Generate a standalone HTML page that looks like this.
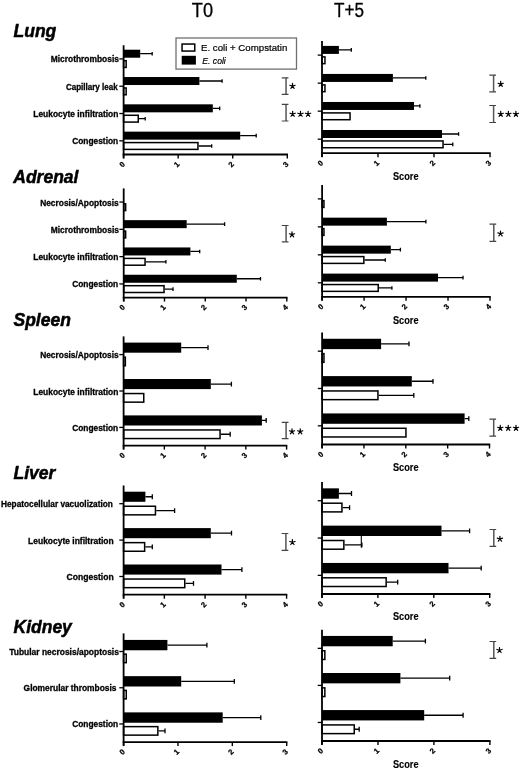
<!DOCTYPE html>
<html><head><meta charset="utf-8"><style>
html,body{margin:0;padding:0;background:#fff;}
svg{display:block;font-family:"Liberation Sans", sans-serif;filter:grayscale(100%);}
</style></head><body>
<svg width="520" height="770" viewBox="0 0 520 770">
<text x="191.8" y="16.5" font-size="19.3" stroke="#000" stroke-width="0.3" textLength="21.2" lengthAdjust="spacingAndGlyphs">T0</text>
<text x="334" y="16.5" font-size="19.3" stroke="#000" stroke-width="0.3" textLength="30" lengthAdjust="spacingAndGlyphs">T+5</text>
<text x="13.5" y="36.5" font-size="17.5" font-weight="bold" font-style="italic" stroke="#000" stroke-width="0.5">Lung</text>
<text x="13.3" y="183.2" font-size="17.5" font-weight="bold" font-style="italic" stroke="#000" stroke-width="0.5">Adrenal</text>
<text x="13.5" y="326.3" font-size="17.5" font-weight="bold" font-style="italic" stroke="#000" stroke-width="0.5">Spleen</text>
<text x="13.5" y="479.2" font-size="17.5" font-weight="bold" font-style="italic" stroke="#000" stroke-width="0.5">Liver</text>
<text x="13.5" y="633" font-size="17.5" font-weight="bold" font-style="italic" stroke="#000" stroke-width="0.5">Kidney</text>
<rect x="123.6" y="49.71" width="16.6" height="8" fill="#000"/>
<path d="M140.2 53.71H152.2M152.2 51.91V55.51" stroke="#000" stroke-width="1.3" fill="none"/>
<rect x="123.6" y="60.66" width="2.55" height="6.8" fill="#fff" stroke="#000" stroke-width="1.5"/>
<path d="M119.3 58.91H123.6" stroke="#000" stroke-width="1.3"/>
<text x="50.8" y="62.41" font-size="8.6" font-weight="bold" stroke="#000" stroke-width="0.3" textLength="68.1" lengthAdjust="spacingAndGlyphs">Microthrombosis</text>
<rect x="123.6" y="77.02" width="75.8" height="8" fill="#000"/>
<path d="M199.4 81.02H222.1M222.1 79.22V82.82" stroke="#000" stroke-width="1.3" fill="none"/>
<rect x="123.6" y="87.97" width="2.55" height="6.8" fill="#fff" stroke="#000" stroke-width="1.5"/>
<path d="M119.3 86.22H123.6" stroke="#000" stroke-width="1.3"/>
<text x="65.9" y="89.72" font-size="8.6" font-weight="bold" stroke="#000" stroke-width="0.3" textLength="51.8" lengthAdjust="spacingAndGlyphs">Capillary leak</text>
<rect x="123.6" y="104.33" width="89.2" height="8" fill="#000"/>
<path d="M212.8 108.33H219.7M219.7 106.53V110.13" stroke="#000" stroke-width="1.3" fill="none"/>
<rect x="123.6" y="115.28" width="14.65" height="6.8" fill="#fff" stroke="#000" stroke-width="1.5"/>
<path d="M139 118.68H145.2M145.2 116.88V120.48" stroke="#000" stroke-width="1.3" fill="none"/>
<path d="M119.3 113.53H123.6" stroke="#000" stroke-width="1.3"/>
<text x="33.3" y="117.03" font-size="8.6" font-weight="bold" stroke="#000" stroke-width="0.3" textLength="85.1" lengthAdjust="spacingAndGlyphs">Leukocyte infiltration</text>
<rect x="123.6" y="131.64" width="116.6" height="8" fill="#000"/>
<path d="M240.2 135.64H256.2M256.2 133.84V137.44" stroke="#000" stroke-width="1.3" fill="none"/>
<rect x="123.6" y="142.59" width="74.35" height="6.8" fill="#fff" stroke="#000" stroke-width="1.5"/>
<path d="M198.7 145.99H211.7M211.7 144.19V147.79" stroke="#000" stroke-width="1.3" fill="none"/>
<path d="M119.3 140.84H123.6" stroke="#000" stroke-width="1.3"/>
<text x="72.2" y="144.34" font-size="8.6" font-weight="bold" stroke="#000" stroke-width="0.3" textLength="46" lengthAdjust="spacingAndGlyphs">Congestion</text>
<path d="M123.6 45.25V158.3" stroke="#000" stroke-width="1.8"/>
<path d="M122.7 154.5H288" stroke="#000" stroke-width="1.8"/>
<path d="M123.6 154.5V158.5" stroke="#000" stroke-width="1.4"/>
<text x="122" y="167" font-size="7.6" font-weight="bold" stroke="#000" stroke-width="0.25" text-anchor="middle" transform="rotate(-45 122 164.3)">0</text>
<path d="M178.17 154.5V158.5" stroke="#000" stroke-width="1.4"/>
<text x="176.57" y="167" font-size="7.6" font-weight="bold" stroke="#000" stroke-width="0.25" text-anchor="middle" transform="rotate(-45 176.57 164.3)">1</text>
<path d="M232.73 154.5V158.5" stroke="#000" stroke-width="1.4"/>
<text x="231.13" y="167" font-size="7.6" font-weight="bold" stroke="#000" stroke-width="0.25" text-anchor="middle" transform="rotate(-45 231.13 164.3)">2</text>
<path d="M287.3 154.5V158.5" stroke="#000" stroke-width="1.4"/>
<text x="285.7" y="167" font-size="7.6" font-weight="bold" stroke="#000" stroke-width="0.25" text-anchor="middle" transform="rotate(-45 285.7 164.3)">3</text>
<path d="M286.05 77.9V94.4" stroke="#555" stroke-width="1.5" fill="none"/>
<path d="M281.75 77.9H288.45M281.75 94.4H288.45" stroke="#444" stroke-width="1.2" fill="none"/>
<path d="M292.5 86.1L292.5 83.35M292.5 86.1L295.12 85.25M292.5 86.1L294.12 88.32M292.5 86.1L290.88 88.32M292.5 86.1L289.88 85.25" stroke="#000" stroke-width="1.2" stroke-linecap="round" fill="none"/>
<path d="M286.05 104.4V121" stroke="#555" stroke-width="1.5" fill="none"/>
<path d="M281.75 104.4H288.45M281.75 121H288.45" stroke="#444" stroke-width="1.2" fill="none"/>
<path d="M292.65 114.05L292.65 111.3M292.65 114.05L295.27 113.2M292.65 114.05L294.27 116.27M292.65 114.05L291.03 116.27M292.65 114.05L290.03 113.2" stroke="#000" stroke-width="1.2" stroke-linecap="round" fill="none"/>
<path d="M300.5 114.05L300.5 111.3M300.5 114.05L303.12 113.2M300.5 114.05L302.12 116.27M300.5 114.05L298.88 116.27M300.5 114.05L297.88 113.2" stroke="#000" stroke-width="1.2" stroke-linecap="round" fill="none"/>
<path d="M308.1 114.05L308.1 111.3M308.1 114.05L310.72 113.2M308.1 114.05L309.72 116.27M308.1 114.05L306.48 116.27M308.1 114.05L305.48 113.2" stroke="#000" stroke-width="1.2" stroke-linecap="round" fill="none"/>
<rect x="322" y="45.91" width="16.9" height="8" fill="#000"/>
<path d="M338.9 49.91H351.3M351.3 48.11V51.71" stroke="#000" stroke-width="1.3" fill="none"/>
<rect x="322" y="56.86" width="2.95" height="6.8" fill="#fff" stroke="#000" stroke-width="1.5"/>
<path d="M317.7 55.11H322" stroke="#000" stroke-width="1.3"/>
<rect x="322" y="73.94" width="70.9" height="8" fill="#000"/>
<path d="M392.9 77.94H425.8M425.8 76.14V79.74" stroke="#000" stroke-width="1.3" fill="none"/>
<rect x="322" y="84.89" width="2.95" height="6.8" fill="#fff" stroke="#000" stroke-width="1.5"/>
<path d="M317.7 83.14H322" stroke="#000" stroke-width="1.3"/>
<rect x="322" y="101.96" width="92" height="8" fill="#000"/>
<path d="M414 105.96H419.9M419.9 104.16V107.76" stroke="#000" stroke-width="1.3" fill="none"/>
<rect x="322" y="112.91" width="28.05" height="6.8" fill="#fff" stroke="#000" stroke-width="1.5"/>
<path d="M317.7 111.16H322" stroke="#000" stroke-width="1.3"/>
<rect x="322" y="129.99" width="120" height="8" fill="#000"/>
<path d="M442 133.99H458.6M458.6 132.19V135.79" stroke="#000" stroke-width="1.3" fill="none"/>
<rect x="322" y="140.94" width="121.05" height="6.8" fill="#fff" stroke="#000" stroke-width="1.5"/>
<path d="M443.8 144.34H452.8M452.8 142.54V146.14" stroke="#000" stroke-width="1.3" fill="none"/>
<path d="M317.7 139.19H322" stroke="#000" stroke-width="1.3"/>
<path d="M322 41.1V157" stroke="#000" stroke-width="1.8"/>
<path d="M321.1 153.2H490.7" stroke="#000" stroke-width="1.8"/>
<path d="M322 153.2V157.2" stroke="#000" stroke-width="1.4"/>
<text x="320.4" y="165.7" font-size="7.6" font-weight="bold" stroke="#000" stroke-width="0.25" text-anchor="middle" transform="rotate(-45 320.4 163)">0</text>
<path d="M378 153.2V157.2" stroke="#000" stroke-width="1.4"/>
<text x="376.4" y="165.7" font-size="7.6" font-weight="bold" stroke="#000" stroke-width="0.25" text-anchor="middle" transform="rotate(-45 376.4 163)">1</text>
<path d="M434 153.2V157.2" stroke="#000" stroke-width="1.4"/>
<text x="432.4" y="165.7" font-size="7.6" font-weight="bold" stroke="#000" stroke-width="0.25" text-anchor="middle" transform="rotate(-45 432.4 163)">2</text>
<path d="M490 153.2V157.2" stroke="#000" stroke-width="1.4"/>
<text x="488.4" y="165.7" font-size="7.6" font-weight="bold" stroke="#000" stroke-width="0.25" text-anchor="middle" transform="rotate(-45 488.4 163)">3</text>
<path d="M493.6 75.1V91.9" stroke="#555" stroke-width="1.5" fill="none"/>
<path d="M489.3 75.1H496M489.3 91.9H496" stroke="#444" stroke-width="1.2" fill="none"/>
<path d="M500.7 84.1L500.7 81.35M500.7 84.1L503.32 83.25M500.7 84.1L502.32 86.32M500.7 84.1L499.08 86.32M500.7 84.1L498.08 83.25" stroke="#000" stroke-width="1.2" stroke-linecap="round" fill="none"/>
<path d="M493.6 105.5V122.5" stroke="#555" stroke-width="1.5" fill="none"/>
<path d="M489.3 105.5H496M489.3 122.5H496" stroke="#444" stroke-width="1.2" fill="none"/>
<path d="M500.7 114.1L500.7 111.35M500.7 114.1L503.32 113.25M500.7 114.1L502.32 116.32M500.7 114.1L499.08 116.32M500.7 114.1L498.08 113.25" stroke="#000" stroke-width="1.2" stroke-linecap="round" fill="none"/>
<path d="M508.4 114.1L508.4 111.35M508.4 114.1L511.02 113.25M508.4 114.1L510.02 116.32M508.4 114.1L506.78 116.32M508.4 114.1L505.78 113.25" stroke="#000" stroke-width="1.2" stroke-linecap="round" fill="none"/>
<path d="M515.9 114.1L515.9 111.35M515.9 114.1L518.52 113.25M515.9 114.1L517.52 116.32M515.9 114.1L514.28 116.32M515.9 114.1L513.28 113.25" stroke="#000" stroke-width="1.2" stroke-linecap="round" fill="none"/>
<text x="392.95" y="180.1" font-size="10.4" font-weight="bold" stroke="#000" stroke-width="0.15" textLength="25.6" lengthAdjust="spacingAndGlyphs">Score</text>
<rect x="123.7" y="203.8" width="1.95" height="6.8" fill="#fff" stroke="#000" stroke-width="1.5"/>
<path d="M119.4 202.05H123.7" stroke="#000" stroke-width="1.3"/>
<text x="40.2" y="205.55" font-size="8.6" font-weight="bold" stroke="#000" stroke-width="0.3" textLength="78.5" lengthAdjust="spacingAndGlyphs">Necrosis/Apoptosis</text>
<rect x="123.7" y="220.15" width="63" height="8" fill="#000"/>
<path d="M186.7 224.15H224.6M224.6 222.35V225.95" stroke="#000" stroke-width="1.3" fill="none"/>
<rect x="123.7" y="231.1" width="1.95" height="6.8" fill="#fff" stroke="#000" stroke-width="1.5"/>
<path d="M119.4 229.35H123.7" stroke="#000" stroke-width="1.3"/>
<text x="50.8" y="232.85" font-size="8.6" font-weight="bold" stroke="#000" stroke-width="0.3" textLength="68.1" lengthAdjust="spacingAndGlyphs">Microthrombosis</text>
<rect x="123.7" y="247.45" width="66.7" height="8" fill="#000"/>
<path d="M190.4 251.45H199.7M199.7 249.65V253.25" stroke="#000" stroke-width="1.3" fill="none"/>
<rect x="123.7" y="258.4" width="21.35" height="6.8" fill="#fff" stroke="#000" stroke-width="1.5"/>
<path d="M145.8 261.8H165.9M165.9 260V263.6" stroke="#000" stroke-width="1.3" fill="none"/>
<path d="M119.4 256.65H123.7" stroke="#000" stroke-width="1.3"/>
<text x="33.3" y="260.15" font-size="8.6" font-weight="bold" stroke="#000" stroke-width="0.3" textLength="85.1" lengthAdjust="spacingAndGlyphs">Leukocyte infiltration</text>
<rect x="123.7" y="274.75" width="113.1" height="8" fill="#000"/>
<path d="M236.8 278.75H260.5M260.5 276.95V280.55" stroke="#000" stroke-width="1.3" fill="none"/>
<rect x="123.7" y="285.7" width="40.35" height="6.8" fill="#fff" stroke="#000" stroke-width="1.5"/>
<path d="M164.8 289.1H173M173 287.3V290.9" stroke="#000" stroke-width="1.3" fill="none"/>
<path d="M119.4 283.95H123.7" stroke="#000" stroke-width="1.3"/>
<text x="72.2" y="287.45" font-size="8.6" font-weight="bold" stroke="#000" stroke-width="0.3" textLength="46" lengthAdjust="spacingAndGlyphs">Congestion</text>
<path d="M123.7 188.4V301.4" stroke="#000" stroke-width="1.8"/>
<path d="M122.8 297.6H287.5" stroke="#000" stroke-width="1.8"/>
<path d="M123.7 297.6V301.6" stroke="#000" stroke-width="1.4"/>
<text x="122.1" y="310.1" font-size="7.6" font-weight="bold" stroke="#000" stroke-width="0.25" text-anchor="middle" transform="rotate(-45 122.1 307.4)">0</text>
<path d="M164.48 297.6V301.6" stroke="#000" stroke-width="1.4"/>
<text x="162.88" y="310.1" font-size="7.6" font-weight="bold" stroke="#000" stroke-width="0.25" text-anchor="middle" transform="rotate(-45 162.88 307.4)">1</text>
<path d="M205.25 297.6V301.6" stroke="#000" stroke-width="1.4"/>
<text x="203.65" y="310.1" font-size="7.6" font-weight="bold" stroke="#000" stroke-width="0.25" text-anchor="middle" transform="rotate(-45 203.65 307.4)">2</text>
<path d="M246.03 297.6V301.6" stroke="#000" stroke-width="1.4"/>
<text x="244.43" y="310.1" font-size="7.6" font-weight="bold" stroke="#000" stroke-width="0.25" text-anchor="middle" transform="rotate(-45 244.43 307.4)">3</text>
<path d="M286.8 297.6V301.6" stroke="#000" stroke-width="1.4"/>
<text x="285.2" y="310.1" font-size="7.6" font-weight="bold" stroke="#000" stroke-width="0.25" text-anchor="middle" transform="rotate(-45 285.2 307.4)">4</text>
<path d="M286.1 225.5V241.8" stroke="#555" stroke-width="1.5" fill="none"/>
<path d="M281.8 225.5H288.5M281.8 241.8H288.5" stroke="#444" stroke-width="1.2" fill="none"/>
<path d="M292 234.6L292 231.85M292 234.6L294.62 233.75M292 234.6L293.62 236.82M292 234.6L290.38 236.82M292 234.6L289.38 233.75" stroke="#000" stroke-width="1.2" stroke-linecap="round" fill="none"/>
<rect x="322.1" y="200.64" width="1.85" height="6.8" fill="#fff" stroke="#000" stroke-width="1.5"/>
<path d="M317.8 198.89H322.1" stroke="#000" stroke-width="1.3"/>
<rect x="322.1" y="217.66" width="64.8" height="8" fill="#000"/>
<path d="M386.9 221.66H425.9M425.9 219.86V223.46" stroke="#000" stroke-width="1.3" fill="none"/>
<rect x="322.1" y="228.61" width="1.85" height="6.8" fill="#fff" stroke="#000" stroke-width="1.5"/>
<path d="M317.8 226.86H322.1" stroke="#000" stroke-width="1.3"/>
<rect x="322.1" y="245.64" width="68.7" height="8" fill="#000"/>
<path d="M390.8 249.64H400.4M400.4 247.84V251.44" stroke="#000" stroke-width="1.3" fill="none"/>
<rect x="322.1" y="256.59" width="41.75" height="6.8" fill="#fff" stroke="#000" stroke-width="1.5"/>
<path d="M364.6 259.99H385.3M385.3 258.19V261.79" stroke="#000" stroke-width="1.3" fill="none"/>
<path d="M317.8 254.84H322.1" stroke="#000" stroke-width="1.3"/>
<rect x="322.1" y="273.61" width="115.9" height="8" fill="#000"/>
<path d="M438 277.61H463M463 275.81V279.41" stroke="#000" stroke-width="1.3" fill="none"/>
<rect x="322.1" y="284.56" width="56.15" height="6.8" fill="#fff" stroke="#000" stroke-width="1.5"/>
<path d="M379 287.96H391.9M391.9 286.16V289.76" stroke="#000" stroke-width="1.3" fill="none"/>
<path d="M317.8 282.81H322.1" stroke="#000" stroke-width="1.3"/>
<path d="M322.1 184.9V300.6" stroke="#000" stroke-width="1.8"/>
<path d="M321.2 296.8H490.7" stroke="#000" stroke-width="1.8"/>
<path d="M322.1 296.8V300.8" stroke="#000" stroke-width="1.4"/>
<text x="320.5" y="309.3" font-size="7.6" font-weight="bold" stroke="#000" stroke-width="0.25" text-anchor="middle" transform="rotate(-45 320.5 306.6)">0</text>
<path d="M364.08 296.8V300.8" stroke="#000" stroke-width="1.4"/>
<text x="362.48" y="309.3" font-size="7.6" font-weight="bold" stroke="#000" stroke-width="0.25" text-anchor="middle" transform="rotate(-45 362.48 306.6)">1</text>
<path d="M406.05 296.8V300.8" stroke="#000" stroke-width="1.4"/>
<text x="404.45" y="309.3" font-size="7.6" font-weight="bold" stroke="#000" stroke-width="0.25" text-anchor="middle" transform="rotate(-45 404.45 306.6)">2</text>
<path d="M448.02 296.8V300.8" stroke="#000" stroke-width="1.4"/>
<text x="446.42" y="309.3" font-size="7.6" font-weight="bold" stroke="#000" stroke-width="0.25" text-anchor="middle" transform="rotate(-45 446.42 306.6)">3</text>
<path d="M490 296.8V300.8" stroke="#000" stroke-width="1.4"/>
<text x="488.4" y="309.3" font-size="7.6" font-weight="bold" stroke="#000" stroke-width="0.25" text-anchor="middle" transform="rotate(-45 488.4 306.6)">4</text>
<path d="M493.8 224.2V241.3" stroke="#555" stroke-width="1.5" fill="none"/>
<path d="M489.5 224.2H496.2M489.5 241.3H496.2" stroke="#444" stroke-width="1.2" fill="none"/>
<path d="M500.5 233.75L500.5 231M500.5 233.75L503.12 232.9M500.5 233.75L502.12 235.97M500.5 233.75L498.88 235.97M500.5 233.75L497.88 232.9" stroke="#000" stroke-width="1.2" stroke-linecap="round" fill="none"/>
<text x="392.95" y="324.3" font-size="10.4" font-weight="bold" stroke="#000" stroke-width="0.15" textLength="25.6" lengthAdjust="spacingAndGlyphs">Score</text>
<rect x="123.6" y="342.6" width="57.6" height="10.1" fill="#000"/>
<path d="M181.2 347.65H208M208 345.25V350.05" stroke="#000" stroke-width="1.3" fill="none"/>
<rect x="123.6" y="357.15" width="1.75" height="8.6" fill="#fff" stroke="#000" stroke-width="1.5"/>
<path d="M119.3 354.6H123.6" stroke="#000" stroke-width="1.3"/>
<text x="40.2" y="358.1" font-size="8.6" font-weight="bold" stroke="#000" stroke-width="0.3" textLength="78.5" lengthAdjust="spacingAndGlyphs">Necrosis/Apoptosis</text>
<rect x="123.6" y="379" width="87.2" height="10.1" fill="#000"/>
<path d="M210.8 384.05H231.4M231.4 381.65V386.45" stroke="#000" stroke-width="1.3" fill="none"/>
<rect x="123.6" y="393.55" width="20.15" height="8.6" fill="#fff" stroke="#000" stroke-width="1.5"/>
<path d="M119.3 391H123.6" stroke="#000" stroke-width="1.3"/>
<text x="33.3" y="394.5" font-size="8.6" font-weight="bold" stroke="#000" stroke-width="0.3" textLength="85.1" lengthAdjust="spacingAndGlyphs">Leukocyte infiltration</text>
<rect x="123.6" y="415.4" width="138.3" height="10.1" fill="#000"/>
<path d="M261.9 420.45H266.2M266.2 418.05V422.85" stroke="#000" stroke-width="1.3" fill="none"/>
<rect x="123.6" y="429.95" width="96.45" height="8.6" fill="#fff" stroke="#000" stroke-width="1.5"/>
<path d="M220.8 434.25H230.2M230.2 431.85V436.65" stroke="#000" stroke-width="1.3" fill="none"/>
<path d="M119.3 427.4H123.6" stroke="#000" stroke-width="1.3"/>
<text x="72.2" y="430.9" font-size="8.6" font-weight="bold" stroke="#000" stroke-width="0.3" textLength="46" lengthAdjust="spacingAndGlyphs">Congestion</text>
<path d="M123.6 336.4V449.4" stroke="#000" stroke-width="1.8"/>
<path d="M122.7 445.6H287.3" stroke="#000" stroke-width="1.8"/>
<path d="M123.6 445.6V449.6" stroke="#000" stroke-width="1.4"/>
<text x="122" y="458.1" font-size="7.6" font-weight="bold" stroke="#000" stroke-width="0.25" text-anchor="middle" transform="rotate(-45 122 455.4)">0</text>
<path d="M164.35 445.6V449.6" stroke="#000" stroke-width="1.4"/>
<text x="162.75" y="458.1" font-size="7.6" font-weight="bold" stroke="#000" stroke-width="0.25" text-anchor="middle" transform="rotate(-45 162.75 455.4)">1</text>
<path d="M205.1 445.6V449.6" stroke="#000" stroke-width="1.4"/>
<text x="203.5" y="458.1" font-size="7.6" font-weight="bold" stroke="#000" stroke-width="0.25" text-anchor="middle" transform="rotate(-45 203.5 455.4)">2</text>
<path d="M245.85 445.6V449.6" stroke="#000" stroke-width="1.4"/>
<text x="244.25" y="458.1" font-size="7.6" font-weight="bold" stroke="#000" stroke-width="0.25" text-anchor="middle" transform="rotate(-45 244.25 455.4)">3</text>
<path d="M286.6 445.6V449.6" stroke="#000" stroke-width="1.4"/>
<text x="285" y="458.1" font-size="7.6" font-weight="bold" stroke="#000" stroke-width="0.25" text-anchor="middle" transform="rotate(-45 285 455.4)">4</text>
<path d="M286.1 422.3V438.7" stroke="#555" stroke-width="1.5" fill="none"/>
<path d="M281.8 422.3H288.5M281.8 438.7H288.5" stroke="#444" stroke-width="1.2" fill="none"/>
<path d="M292 431.6L292 428.85M292 431.6L294.62 430.75M292 431.6L293.62 433.82M292 431.6L290.38 433.82M292 431.6L289.38 430.75" stroke="#000" stroke-width="1.2" stroke-linecap="round" fill="none"/>
<path d="M300.2 431.6L300.2 428.85M300.2 431.6L302.82 430.75M300.2 431.6L301.82 433.82M300.2 431.6L298.58 433.82M300.2 431.6L297.58 430.75" stroke="#000" stroke-width="1.2" stroke-linecap="round" fill="none"/>
<rect x="322.1" y="338.77" width="59" height="10.35" fill="#000"/>
<path d="M381.1 343.94H409M409 341.54V346.34" stroke="#000" stroke-width="1.3" fill="none"/>
<rect x="322.1" y="353.62" width="1.85" height="8.7" fill="#fff" stroke="#000" stroke-width="1.5"/>
<path d="M317.8 351.17H322.1" stroke="#000" stroke-width="1.3"/>
<rect x="322.1" y="376.1" width="89.7" height="10.35" fill="#000"/>
<path d="M411.8 381.27H433M433 378.88V383.67" stroke="#000" stroke-width="1.3" fill="none"/>
<rect x="322.1" y="390.95" width="55.85" height="8.7" fill="#fff" stroke="#000" stroke-width="1.5"/>
<path d="M378.7 395.3H413.8M413.8 392.9V397.7" stroke="#000" stroke-width="1.3" fill="none"/>
<path d="M317.8 388.5H322.1" stroke="#000" stroke-width="1.3"/>
<rect x="322.1" y="413.43" width="142.5" height="10.35" fill="#000"/>
<path d="M464.6 418.61H468.8M468.8 416.21V421.01" stroke="#000" stroke-width="1.3" fill="none"/>
<rect x="322.1" y="428.28" width="83.85" height="8.7" fill="#fff" stroke="#000" stroke-width="1.5"/>
<path d="M317.8 425.83H322.1" stroke="#000" stroke-width="1.3"/>
<path d="M322.1 332.5V448.3" stroke="#000" stroke-width="1.8"/>
<path d="M321.2 444.5H490.2" stroke="#000" stroke-width="1.8"/>
<path d="M322.1 444.5V448.5" stroke="#000" stroke-width="1.4"/>
<text x="320.5" y="457" font-size="7.6" font-weight="bold" stroke="#000" stroke-width="0.25" text-anchor="middle" transform="rotate(-45 320.5 454.3)">0</text>
<path d="M363.95 444.5V448.5" stroke="#000" stroke-width="1.4"/>
<text x="362.35" y="457" font-size="7.6" font-weight="bold" stroke="#000" stroke-width="0.25" text-anchor="middle" transform="rotate(-45 362.35 454.3)">1</text>
<path d="M405.8 444.5V448.5" stroke="#000" stroke-width="1.4"/>
<text x="404.2" y="457" font-size="7.6" font-weight="bold" stroke="#000" stroke-width="0.25" text-anchor="middle" transform="rotate(-45 404.2 454.3)">2</text>
<path d="M447.65 444.5V448.5" stroke="#000" stroke-width="1.4"/>
<text x="446.05" y="457" font-size="7.6" font-weight="bold" stroke="#000" stroke-width="0.25" text-anchor="middle" transform="rotate(-45 446.05 454.3)">3</text>
<path d="M489.5 444.5V448.5" stroke="#000" stroke-width="1.4"/>
<text x="487.9" y="457" font-size="7.6" font-weight="bold" stroke="#000" stroke-width="0.25" text-anchor="middle" transform="rotate(-45 487.9 454.3)">4</text>
<path d="M493.7 419.1V436.2" stroke="#555" stroke-width="1.5" fill="none"/>
<path d="M489.4 419.1H496.1M489.4 436.2H496.1" stroke="#444" stroke-width="1.2" fill="none"/>
<path d="M500.3 428.1L500.3 425.35M500.3 428.1L502.92 427.25M500.3 428.1L501.92 430.32M500.3 428.1L498.68 430.32M500.3 428.1L497.68 427.25" stroke="#000" stroke-width="1.2" stroke-linecap="round" fill="none"/>
<path d="M508.2 428.1L508.2 425.35M508.2 428.1L510.82 427.25M508.2 428.1L509.82 430.32M508.2 428.1L506.58 430.32M508.2 428.1L505.58 427.25" stroke="#000" stroke-width="1.2" stroke-linecap="round" fill="none"/>
<path d="M516 428.1L516 425.35M516 428.1L518.62 427.25M516 428.1L517.62 430.32M516 428.1L514.38 430.32M516 428.1L513.38 427.25" stroke="#000" stroke-width="1.2" stroke-linecap="round" fill="none"/>
<text x="392.95" y="471.4" font-size="10.4" font-weight="bold" stroke="#000" stroke-width="0.15" textLength="25.6" lengthAdjust="spacingAndGlyphs">Score</text>
<rect x="123.6" y="491.7" width="21.8" height="10.1" fill="#000"/>
<path d="M145.4 496.75H152.3M152.3 494.35V499.15" stroke="#000" stroke-width="1.3" fill="none"/>
<rect x="123.6" y="506.25" width="31.85" height="8.6" fill="#fff" stroke="#000" stroke-width="1.5"/>
<path d="M156.2 510.55H174.6M174.6 508.15V512.95" stroke="#000" stroke-width="1.3" fill="none"/>
<path d="M119.3 503.7H123.6" stroke="#000" stroke-width="1.3"/>
<text x="1" y="507.2" font-size="8.6" font-weight="bold" stroke="#000" stroke-width="0.3" textLength="111.9" lengthAdjust="spacingAndGlyphs">Hepatocellular vacuolization</text>
<rect x="123.6" y="528.1" width="87.2" height="10.1" fill="#000"/>
<path d="M210.8 533.15H231.5M231.5 530.75V535.55" stroke="#000" stroke-width="1.3" fill="none"/>
<rect x="123.6" y="542.65" width="21.05" height="8.6" fill="#fff" stroke="#000" stroke-width="1.5"/>
<path d="M145.4 546.95H152.3M152.3 544.55V549.35" stroke="#000" stroke-width="1.3" fill="none"/>
<path d="M119.3 540.1H123.6" stroke="#000" stroke-width="1.3"/>
<text x="28.1" y="543.6" font-size="8.6" font-weight="bold" stroke="#000" stroke-width="0.3" textLength="85.6" lengthAdjust="spacingAndGlyphs">Leukocyte infiltration</text>
<rect x="123.6" y="564.5" width="97.9" height="10.1" fill="#000"/>
<path d="M221.5 569.55H241.9M241.9 567.15V571.95" stroke="#000" stroke-width="1.3" fill="none"/>
<rect x="123.6" y="579.05" width="61.15" height="8.6" fill="#fff" stroke="#000" stroke-width="1.5"/>
<path d="M185.5 583.35H193.5M193.5 580.95V585.75" stroke="#000" stroke-width="1.3" fill="none"/>
<path d="M119.3 576.5H123.6" stroke="#000" stroke-width="1.3"/>
<text x="66.5" y="580" font-size="8.6" font-weight="bold" stroke="#000" stroke-width="0.3" textLength="47.2" lengthAdjust="spacingAndGlyphs">Congestion</text>
<path d="M123.6 485.5V598.5" stroke="#000" stroke-width="1.8"/>
<path d="M122.7 594.7H287.3" stroke="#000" stroke-width="1.8"/>
<path d="M123.6 594.7V598.7" stroke="#000" stroke-width="1.4"/>
<text x="122" y="607.2" font-size="7.6" font-weight="bold" stroke="#000" stroke-width="0.25" text-anchor="middle" transform="rotate(-45 122 604.5)">0</text>
<path d="M164.35 594.7V598.7" stroke="#000" stroke-width="1.4"/>
<text x="162.75" y="607.2" font-size="7.6" font-weight="bold" stroke="#000" stroke-width="0.25" text-anchor="middle" transform="rotate(-45 162.75 604.5)">1</text>
<path d="M205.1 594.7V598.7" stroke="#000" stroke-width="1.4"/>
<text x="203.5" y="607.2" font-size="7.6" font-weight="bold" stroke="#000" stroke-width="0.25" text-anchor="middle" transform="rotate(-45 203.5 604.5)">2</text>
<path d="M245.85 594.7V598.7" stroke="#000" stroke-width="1.4"/>
<text x="244.25" y="607.2" font-size="7.6" font-weight="bold" stroke="#000" stroke-width="0.25" text-anchor="middle" transform="rotate(-45 244.25 604.5)">3</text>
<path d="M286.6 594.7V598.7" stroke="#000" stroke-width="1.4"/>
<text x="285" y="607.2" font-size="7.6" font-weight="bold" stroke="#000" stroke-width="0.25" text-anchor="middle" transform="rotate(-45 285 604.5)">4</text>
<path d="M285.9 533.5V550.3" stroke="#555" stroke-width="1.5" fill="none"/>
<path d="M281.6 533.5H288.3M281.6 550.3H288.3" stroke="#444" stroke-width="1.2" fill="none"/>
<path d="M292.4 542.3L292.4 539.55M292.4 542.3L295.02 541.45M292.4 542.3L294.02 544.52M292.4 542.3L290.78 544.52M292.4 542.3L289.78 541.45" stroke="#000" stroke-width="1.2" stroke-linecap="round" fill="none"/>
<rect x="322" y="488.35" width="16.9" height="10.35" fill="#000"/>
<path d="M338.9 493.52H351.5M351.5 491.12V495.92" stroke="#000" stroke-width="1.3" fill="none"/>
<rect x="322" y="503.2" width="19.95" height="8.7" fill="#fff" stroke="#000" stroke-width="1.5"/>
<path d="M342.7 507.55H349.6M349.6 505.15V509.95" stroke="#000" stroke-width="1.3" fill="none"/>
<path d="M317.7 500.75H322" stroke="#000" stroke-width="1.3"/>
<rect x="322" y="525.65" width="119.5" height="10.35" fill="#000"/>
<path d="M441.5 530.83H469.6M469.6 528.43V533.23" stroke="#000" stroke-width="1.3" fill="none"/>
<rect x="322" y="540.5" width="21.85" height="8.7" fill="#fff" stroke="#000" stroke-width="1.5"/>
<path d="M344.6 544.85H361.9M361.9 542.45V547.25" stroke="#000" stroke-width="1.3" fill="none"/>
<path d="M317.7 538.05H322" stroke="#000" stroke-width="1.3"/>
<rect x="322" y="562.95" width="126.5" height="10.35" fill="#000"/>
<path d="M448.5 568.12H481.2M481.2 565.73V570.52" stroke="#000" stroke-width="1.3" fill="none"/>
<rect x="322" y="577.8" width="64.15" height="8.7" fill="#fff" stroke="#000" stroke-width="1.5"/>
<path d="M386.9 582.15H397.7M397.7 579.75V584.55" stroke="#000" stroke-width="1.3" fill="none"/>
<path d="M317.7 575.35H322" stroke="#000" stroke-width="1.3"/>
<path d="M322 482.1V597.8" stroke="#000" stroke-width="1.8"/>
<path d="M321.1 594H490.4" stroke="#000" stroke-width="1.8"/>
<path d="M322 594V598" stroke="#000" stroke-width="1.4"/>
<text x="320.4" y="606.5" font-size="7.6" font-weight="bold" stroke="#000" stroke-width="0.25" text-anchor="middle" transform="rotate(-45 320.4 603.8)">0</text>
<path d="M377.9 594V598" stroke="#000" stroke-width="1.4"/>
<text x="376.3" y="606.5" font-size="7.6" font-weight="bold" stroke="#000" stroke-width="0.25" text-anchor="middle" transform="rotate(-45 376.3 603.8)">1</text>
<path d="M433.8 594V598" stroke="#000" stroke-width="1.4"/>
<text x="432.2" y="606.5" font-size="7.6" font-weight="bold" stroke="#000" stroke-width="0.25" text-anchor="middle" transform="rotate(-45 432.2 603.8)">2</text>
<path d="M489.7 594V598" stroke="#000" stroke-width="1.4"/>
<text x="488.1" y="606.5" font-size="7.6" font-weight="bold" stroke="#000" stroke-width="0.25" text-anchor="middle" transform="rotate(-45 488.1 603.8)">3</text>
<path d="M493.8 529.5V546.4" stroke="#555" stroke-width="1.5" fill="none"/>
<path d="M489.5 529.5H496.2M489.5 546.4H496.2" stroke="#444" stroke-width="1.2" fill="none"/>
<path d="M499.9 539L499.9 536.25M499.9 539L502.52 538.15M499.9 539L501.52 541.22M499.9 539L498.28 541.22M499.9 539L497.28 538.15" stroke="#000" stroke-width="1.2" stroke-linecap="round" fill="none"/>
<path d="M361.3 535.8V547.7" stroke="#000" stroke-width="1.1"/>
<text x="392.95" y="620.3" font-size="10.4" font-weight="bold" stroke="#000" stroke-width="0.15" textLength="25.6" lengthAdjust="spacingAndGlyphs">Score</text>
<rect x="123.6" y="639.92" width="43.8" height="10.35" fill="#000"/>
<path d="M167.4 645.09H206.9M206.9 642.69V647.49" stroke="#000" stroke-width="1.3" fill="none"/>
<rect x="123.6" y="654.17" width="2.65" height="8.5" fill="#fff" stroke="#000" stroke-width="1.5"/>
<path d="M119.3 651.52H123.6" stroke="#000" stroke-width="1.3"/>
<text x="9.2" y="655.02" font-size="8.6" font-weight="bold" stroke="#000" stroke-width="0.3" textLength="109.7" lengthAdjust="spacingAndGlyphs">Tubular necrosis/apoptosis</text>
<rect x="123.6" y="676.15" width="57.6" height="10.35" fill="#000"/>
<path d="M181.2 681.33H234.3M234.3 678.93V683.73" stroke="#000" stroke-width="1.3" fill="none"/>
<rect x="123.6" y="690.4" width="2.65" height="8.5" fill="#fff" stroke="#000" stroke-width="1.5"/>
<path d="M119.3 687.75H123.6" stroke="#000" stroke-width="1.3"/>
<text x="23.6" y="691.25" font-size="8.6" font-weight="bold" stroke="#000" stroke-width="0.3" textLength="92.9" lengthAdjust="spacingAndGlyphs">Glomerular thrombosis</text>
<rect x="123.6" y="712.38" width="99.1" height="10.35" fill="#000"/>
<path d="M222.7 717.56H260.8M260.8 715.16V719.96" stroke="#000" stroke-width="1.3" fill="none"/>
<rect x="123.6" y="726.63" width="34.25" height="8.5" fill="#fff" stroke="#000" stroke-width="1.5"/>
<path d="M158.6 730.88H165M165 728.48V733.28" stroke="#000" stroke-width="1.3" fill="none"/>
<path d="M119.3 723.98H123.6" stroke="#000" stroke-width="1.3"/>
<text x="72.2" y="727.48" font-size="8.6" font-weight="bold" stroke="#000" stroke-width="0.3" textLength="46" lengthAdjust="spacingAndGlyphs">Congestion</text>
<path d="M123.6 633.4V745.9" stroke="#000" stroke-width="1.8"/>
<path d="M122.7 742.1H287.4" stroke="#000" stroke-width="1.8"/>
<path d="M123.6 742.1V746.1" stroke="#000" stroke-width="1.4"/>
<text x="122" y="754.6" font-size="7.6" font-weight="bold" stroke="#000" stroke-width="0.25" text-anchor="middle" transform="rotate(-45 122 751.9)">0</text>
<path d="M177.97 742.1V746.1" stroke="#000" stroke-width="1.4"/>
<text x="176.37" y="754.6" font-size="7.6" font-weight="bold" stroke="#000" stroke-width="0.25" text-anchor="middle" transform="rotate(-45 176.37 751.9)">1</text>
<path d="M232.33 742.1V746.1" stroke="#000" stroke-width="1.4"/>
<text x="230.73" y="754.6" font-size="7.6" font-weight="bold" stroke="#000" stroke-width="0.25" text-anchor="middle" transform="rotate(-45 230.73 751.9)">2</text>
<path d="M286.7 742.1V746.1" stroke="#000" stroke-width="1.4"/>
<text x="285.1" y="754.6" font-size="7.6" font-weight="bold" stroke="#000" stroke-width="0.25" text-anchor="middle" transform="rotate(-45 285.1 751.9)">3</text>
<rect x="322" y="635.93" width="70.7" height="10.35" fill="#000"/>
<path d="M392.7 641.11H425.4M425.4 638.71V643.51" stroke="#000" stroke-width="1.3" fill="none"/>
<rect x="322" y="650.78" width="2.85" height="8.7" fill="#fff" stroke="#000" stroke-width="1.5"/>
<path d="M317.7 648.33H322" stroke="#000" stroke-width="1.3"/>
<rect x="322" y="673" width="78.4" height="10.35" fill="#000"/>
<path d="M400.4 678.17H449.7M449.7 675.77V680.57" stroke="#000" stroke-width="1.3" fill="none"/>
<rect x="322" y="687.85" width="2.85" height="8.7" fill="#fff" stroke="#000" stroke-width="1.5"/>
<path d="M317.7 685.4H322" stroke="#000" stroke-width="1.3"/>
<rect x="322" y="710.07" width="102.2" height="10.35" fill="#000"/>
<path d="M424.2 715.24H463.1M463.1 712.84V717.64" stroke="#000" stroke-width="1.3" fill="none"/>
<rect x="322" y="724.92" width="32.25" height="8.7" fill="#fff" stroke="#000" stroke-width="1.5"/>
<path d="M355 729.27H359.2M359.2 726.87V731.67" stroke="#000" stroke-width="1.3" fill="none"/>
<path d="M317.7 722.47H322" stroke="#000" stroke-width="1.3"/>
<path d="M322 629.8V744.8" stroke="#000" stroke-width="1.8"/>
<path d="M321.1 741H490.6" stroke="#000" stroke-width="1.8"/>
<path d="M322 741V745" stroke="#000" stroke-width="1.4"/>
<text x="320.4" y="753.5" font-size="7.6" font-weight="bold" stroke="#000" stroke-width="0.25" text-anchor="middle" transform="rotate(-45 320.4 750.8)">0</text>
<path d="M377.97 741V745" stroke="#000" stroke-width="1.4"/>
<text x="376.37" y="753.5" font-size="7.6" font-weight="bold" stroke="#000" stroke-width="0.25" text-anchor="middle" transform="rotate(-45 376.37 750.8)">1</text>
<path d="M433.93 741V745" stroke="#000" stroke-width="1.4"/>
<text x="432.33" y="753.5" font-size="7.6" font-weight="bold" stroke="#000" stroke-width="0.25" text-anchor="middle" transform="rotate(-45 432.33 750.8)">2</text>
<path d="M489.9 741V745" stroke="#000" stroke-width="1.4"/>
<text x="488.3" y="753.5" font-size="7.6" font-weight="bold" stroke="#000" stroke-width="0.25" text-anchor="middle" transform="rotate(-45 488.3 750.8)">3</text>
<path d="M493.8 641.5V658.4" stroke="#555" stroke-width="1.5" fill="none"/>
<path d="M489.5 641.5H496.2M489.5 658.4H496.2" stroke="#444" stroke-width="1.2" fill="none"/>
<path d="M499.5 650.3L499.5 647.55M499.5 650.3L502.12 649.45M499.5 650.3L501.12 652.52M499.5 650.3L497.88 652.52M499.5 650.3L496.88 649.45" stroke="#000" stroke-width="1.2" stroke-linecap="round" fill="none"/>
<text x="392.95" y="768.1" font-size="10.4" font-weight="bold" stroke="#000" stroke-width="0.15" textLength="25.6" lengthAdjust="spacingAndGlyphs">Score</text>
<rect x="176" y="38" width="120.5" height="31.1" fill="#fff" stroke="#707070" stroke-width="1.3"/>
<rect x="182.05" y="44.05" width="12.7" height="7" fill="#fff" stroke="#000" stroke-width="1.5"/>
<rect x="181.7" y="55.8" width="14.2" height="8.8" fill="#000"/>
<text x="201" y="50.8" font-size="9.2" stroke="#000" stroke-width="0.2" textLength="86.3" lengthAdjust="spacingAndGlyphs">E. coli + Compstatin</text>
<text x="202.3" y="63.8" font-size="9.2" font-style="italic" stroke="#000" stroke-width="0.2" textLength="23.5" lengthAdjust="spacingAndGlyphs">E. coli</text>
</svg>
</body></html>
